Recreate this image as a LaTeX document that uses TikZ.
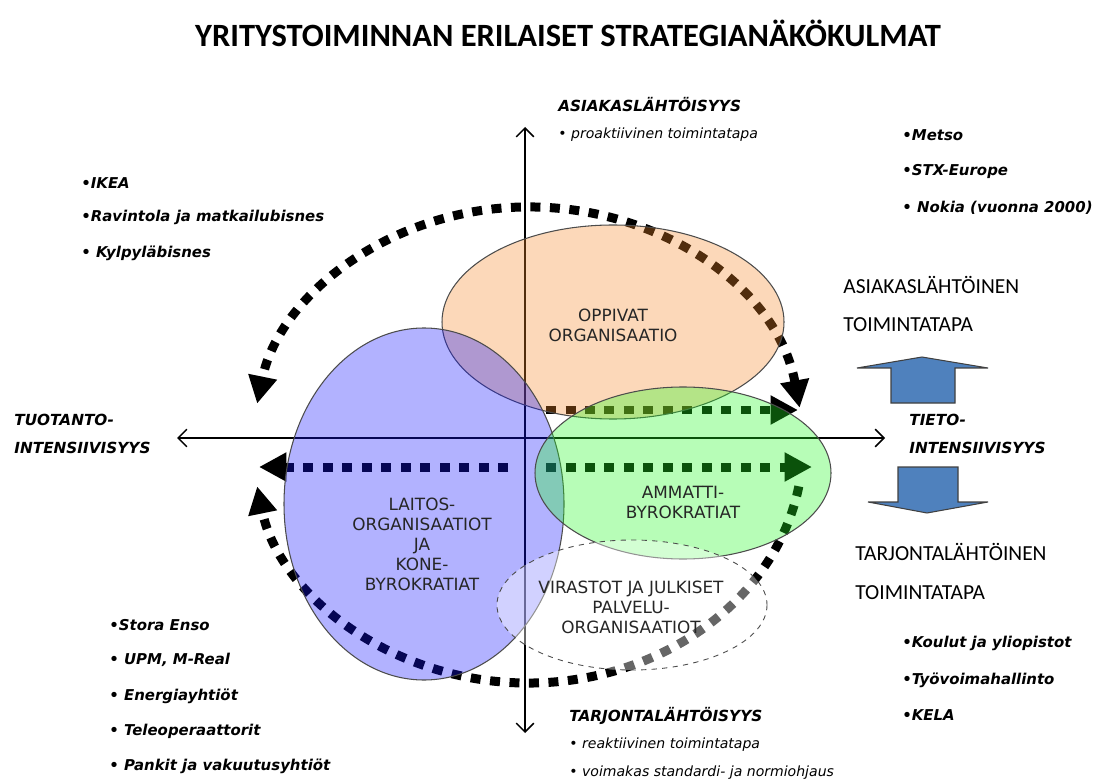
\documentclass[tikz,border=0pt]{standalone}
\usepackage{fontspec}
\setmainfont{DejaVu Sans}
\newfontfamily\titlefont{Carlito}
\usepackage{tikz}
\usetikzlibrary{arrows.meta}
\definecolor{peach}{RGB}{246,138,41}
\definecolor{lilac}{RGB}{20,20,255}
\definecolor{mint}{RGB}{35,250,35}
\definecolor{steel}{RGB}{79,129,189}

\begin{document}
\begin{tikzpicture}[
    x=0.02cm, y=-0.02cm,   % pixel grid, y runs down
    ]
% -------------------------------------------------
\tikzset{
  axis/.style={draw, line width=0.85pt, {Straight Barb[length=5pt,width=10pt]}-{Straight Barb[length=5pt,width=10pt]}},
  flow/.style={draw, line width=0.18cm, dash pattern=on 0.2cm off 0.19cm},
  head/.style={-{Triangle[length=0.55cm,width=0.55cm]}},
  heads/.style={{Triangle[length=0.55cm,width=0.55cm]}-{Triangle[length=0.55cm,width=0.55cm]}},
  blob/.style={draw=black!70, line width=0.6pt, fill opacity=0.33},
  inside/.style={align=center, inner sep=0, text=black!85, font=\fontsize{9.6}{11.4}\selectfont},
  item/.style={anchor=west, inner sep=0, font=\fontsize{8.5}{10}\selectfont\bfseries\itshape},
  heading/.style={anchor=west, inner sep=0, font=\fontsize{8.7}{10}\selectfont\bfseries\itshape},
  note/.style={anchor=west, inner sep=0, font=\fontsize{8}{10}\selectfont\itshape},
  side/.style={anchor=west, inner sep=0, font=\titlefont\fontsize{12.2}{14}\selectfont},
  block/.style={draw=black!75, line width=0.6pt, fill=steel}
}
\useasboundingbox (0,0) rectangle (1101,783);

\node [font=\titlefont\bfseries\fontsize{18.5}{22}\selectfont] (title) at (568,33)
  {YRITYSTOIMINNAN ERILAISET STRATEGIANÄKÖKULMAT};

% axes
\coordinate (up) at (525,127);
\coordinate (down) at (525,733);
\coordinate (west) at (177,438);
\coordinate (east) at (885,438);
\path [axis] (down) -- (up);
\path [axis] (west) -- (east);

% dashed flows
\coordinate (hub) at (528,445);
\coordinate (topmid) at (546,410);
\coordinate (topend) at (798,410);
\coordinate (lowmidl) at (508,467);
\coordinate (lowendl) at (259,467);
\coordinate (lowmidr) at (546,467);
\coordinate (lowendr) at (812,467);
\path [flow, heads] ([shift={(-9:275 and 238)}]hub) arc[start angle=-9, end angle=-170, x radius=275, y radius=238];
\path [flow, head] ([shift={(10:275 and 238)}]hub) arc[start angle=10, end angle=170, x radius=275, y radius=238];
\path [flow, head] (topmid) -- (topend);
\path [flow, head] (lowmidl) -- (lowendl);
\path [flow, head] (lowmidr) -- (lowendr);

% organisation types
\path [blob, fill=peach] (613,322) ellipse [x radius=171, y radius=97];
\path [blob, fill=lilac] (424,504) ellipse [x radius=140, y radius=176];
\path [blob, fill=mint] (683,473) ellipse [x radius=148, y radius=86];
\path [draw=black!70, dashed, line width=0.5pt, fill=white, fill opacity=0.4] (632,605) ellipse [x radius=135, y radius=65];

\node [inside] (oppivat) at (613,325) {OPPIVAT\\ORGANISAATIO};
\node [inside] (laitos) at (422,544) {LAITOS-\\ORGANISAATIOT\\JA\\KONE-\\BYROKRATIAT};
\node [inside] (ammatti) at (683,502) {AMMATTI-\\BYROKRATIAT};
\node [inside] (virastot) at (631,607) {VIRASTOT JA JULKISET\\PALVELU-\\ORGANISAATIOT};

% axis captions
\node [heading] (asiakas) at (558,105) {ASIAKASLÄHTÖISYYS};
\node [note] (proakt) at (558,135) {• proaktiivinen toimintatapa};
\node [heading] (tarjonta) at (569,716) {TARJONTALÄHTÖISYYS};
\node [note] (reakt) at (569,745) {• reaktiivinen toimintatapa};
\node [note] (normi) at (569,773) {• voimakas standardi- ja normiohjaus};
\node [heading] (tuot1) at (14,420) {TUOTANTO-};
\node [heading] (tuot2) at (14,448) {INTENSIIVISYYS};
\node [heading] (tieto1) at (909,420) {TIETO-};
\node [heading] (tieto2) at (909,448) {INTENSIIVISYYS};

% example companies
\node [item] (ikea) at (81,183) {•IKEA};
\node [item] (ravintola) at (81,217) {•Ravintola ja matkailubisnes};
\node [item] (kylpyla) at (81,253) {• Kylpyläbisnes};
\node [item] (metso) at (902,135) {•Metso};
\node [item] (stx) at (902,172) {•STX-Europe};
\node [item] (nokia) at (902,208) {• Nokia (vuonna 2000)};
\node [item] (stora) at (109,625) {•Stora Enso};
\node [item] (upm) at (109,660) {• UPM, M-Real};
\node [item] (energia) at (109,696) {• Energiayhtiöt};
\node [item] (tele) at (109,731) {• Teleoperaattorit};
\node [item] (pankit) at (109,766) {• Pankit ja vakuutusyhtiöt};
\node [item] (koulut) at (902,643) {•Koulut ja yliopistot};
\node [item] (tyovoima) at (902,680) {•Työvoimahallinto};
\node [item] (kela) at (902,715) {•KELA};

% orientation
\node [side] (asl1) at (843,285) {ASIAKASLÄHTÖINEN};
\node [side] (asl2) at (843,325) {TOIMINTATAPA};
\node [side] (tjl1) at (855,552) {TARJONTALÄHTÖINEN};
\node [side] (tjl2) at (855,593) {TOIMINTATAPA};
\path [block] (891,403) -- (891,368) -- (857,368) -- (922,357) -- (988,368) -- (955,368) -- (955,403) -- cycle;
\path [block] (898,467) -- (958,467) -- (958,502) -- (988,502) -- (927,513) -- (868,502) -- (898,502) -- cycle;

\end{tikzpicture}
\end{document}
